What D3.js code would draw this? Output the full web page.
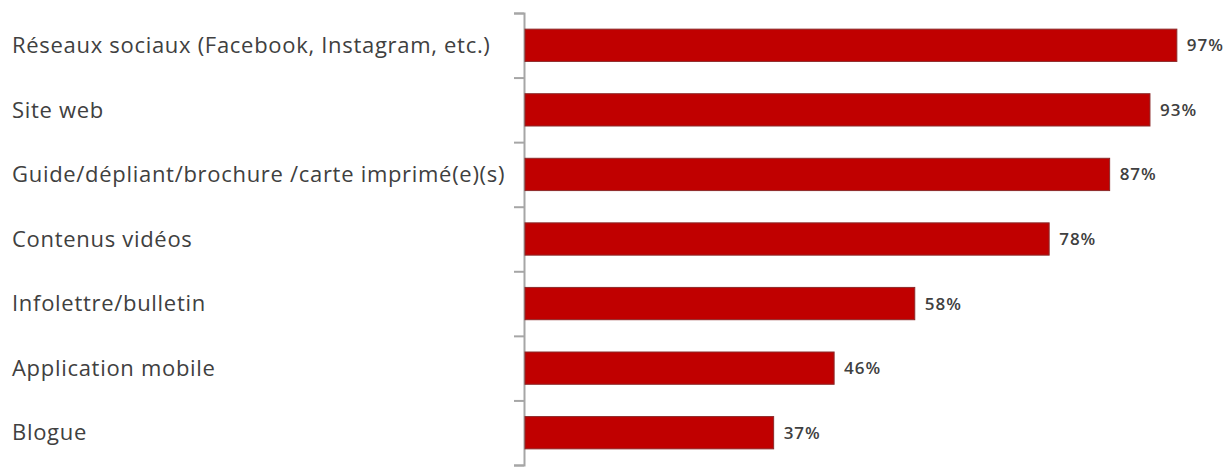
<!DOCTYPE html>
<html><head><meta charset="utf-8">
<script src="https://cdn.jsdelivr.net/npm/d3@7"></script>
<style>body{margin:0;background:#fff}svg{display:block}</style>
</head><body>
<svg id="c" width="1226" height="472"></svg>
<script>
const categories = ["Réseaux sociaux (Facebook, Instagram, etc.)","Site web","Guide/dépliant/brochure /carte imprimé(e)(s)","Contenus vidéos","Infolettre/bulletin","Application mobile","Blogue"];
const values = [97,93,87,78,58,46,37];
const valueLabels = ["97%","93%","87%","78%","58%","46%","37%"];

const svg = d3.select("#c");
const x0 = 524, yTop = 13, yBottom = 465;
const x = d3.scaleLinear().domain([0,100]).range([x0+1, x0+1+672]);
const y = d3.scaleBand().domain(categories).range([yTop,yBottom]).paddingInner(0.5).paddingOuter(0.25);
const yb = d3.scaleLinear().domain([0,categories.length]).range([yTop,yBottom]);

const axis = d3.axisLeft(yb).tickValues(d3.range(categories.length+1)).tickSize(10).tickSizeOuter(10).tickFormat("");
const ga = svg.append("g").attr("transform",`translate(${x0},0)`).call(axis);
ga.selectAll("path,line").attr("stroke","#a6a6a6").attr("stroke-width",2);

svg.selectAll("rect.bar").data(values).join("rect").attr("class","bar")
  .attr("x",x(0)).attr("y",(d,i)=>y(categories[i]))
  .attr("width",d=>x(d)-x(0)).attr("height",y.bandwidth())
  .attr("fill","#c00000").attr("stroke","#8c2a2a").attr("stroke-width",1);

svg.selectAll("text.val").data(values).join("text").attr("class","val")
  .attr("x",d=>x(d)+10).attr("y",(d,i)=>y(categories[i])+y.bandwidth()/2)
  .attr("dy","0.35em").attr("font-family","'Open Sans', sans-serif").attr("font-size",17).attr("font-weight",600)
  .attr("letter-spacing",1)
  .attr("fill","#404040").text((d,i)=>valueLabels[i]);

svg.selectAll("text.cat").data(categories).join("text").attr("class","cat")
  .attr("x",12).attr("y",d=>y(d)+y.bandwidth()/2)
  .attr("dy","0.35em").attr("font-family","'Open Sans', sans-serif").attr("font-size",22)
  .attr("letter-spacing",0.7)
  .attr("fill","#404040").text(d=>d);
</script>
</body></html>
